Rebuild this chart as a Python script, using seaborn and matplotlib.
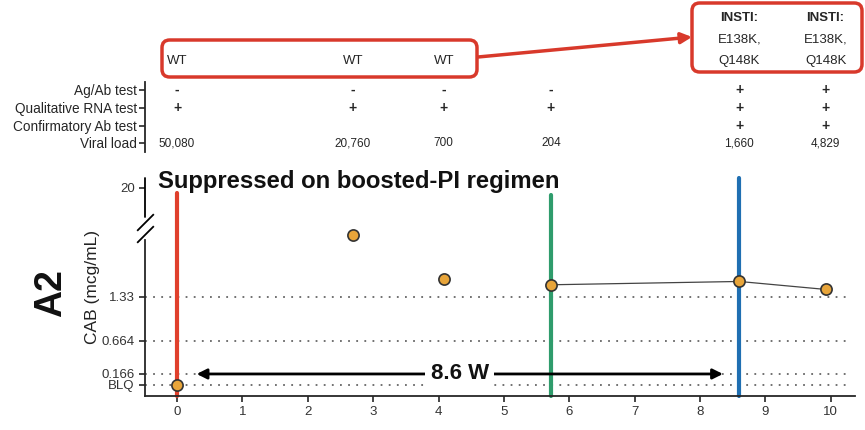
import matplotlib
matplotlib.use("Agg")
import matplotlib.pyplot as plt
import numpy as np
import pandas as pd
import seaborn as sns
from matplotlib.patches import FancyBboxPatch, FancyArrowPatch

# Datos de la figura (semanas desde el inicio)
weeks = [0, 2.69, 4.08, 5.72, 8.6, 9.92]
cab = [0, 2.26, 1.59, 1.51, 1.56, 1.44]
linked = [False, False, False, True, True, True]

genotype = ["WT", "WT", "WT", "", "INSTI:\nE138K,\nQ148K", "INSTI:\nE138K,\nQ148K"]
row_names = ["Ag/Ab test", "Qualitative RNA test", "Confirmatory Ab test", "Viral load"]
ag_ab = ["-", "-", "-", "-", "+", "+"]
rna = ["+", "+", "+", "+", "+", "+"]
confirm = ["", "", "", "", "+", "+"]
viral_load = ["50,080", "20,760", "700", "204", "1,660", "4,829"]

ytick_vals = [0, 0.166, 0.664, 1.33, 20]
ytick_labels = ["BLQ", "0.166", "0.664", "1.33", "20"]
ref_levels = [0, 0.166, 0.664, 1.33]

event_weeks = [0, 5.72, 8.6]
event_colors = ["#e0402c", "#2f9c6c", "#1f6fb2"]
event_tops = [0.931, 0.922, 1.0]

gap_start, gap_end = 0.3, 8.35
gap_label = "8.6 W"
title = "Suppressed on boosted-PI regimen"

RED = "#d8392b"
W, H = 865, 430

sns.set_style("ticks")
plt.rcParams["font.family"] = ["Liberation Sans", "DejaVu Sans"]

fig = plt.figure(figsize=(8.65, 4.3), dpi=100)


def fx(px):
    return px / W


def fy(py):
    return 1 - py / H


# eje con corte: lineal hasta B, comprimido encima
B, K = 2.36, 0.0346


def fwd(v):
    v = np.asarray(v, dtype=float)
    return np.where(v <= B, v, B + (v - B) * K)


def inv(d):
    d = np.asarray(d, dtype=float)
    return np.where(d <= B, d, B + (d - B) / K)


ax = fig.add_axes([fx(145), fy(396), fx(855) - fx(145), fy(178) - fy(396)])
ax.set_yscale("function", functions=(fwd, inv))
ax.set_xlim(-0.49, 10.37)
ax.set_ylim(-0.166, 24.3)

for lvl in ref_levels:
    ax.axhline(lvl, xmin=0, xmax=0.99, color="#666666", lw=1.3,
               linestyle=(0, (1, 3.5)), zorder=1)

for xw, c, top in zip(event_weeks, event_colors, event_tops):
    ax.axvline(xw, ymin=0, ymax=top, color=c, lw=3, zorder=2, clip_on=False)

df = pd.DataFrame({"week": weeks, "cab": cab, "linked": linked})
sns.lineplot(data=df[df["linked"]], x="week", y="cab", ax=ax,
             color="#444444", lw=0.9, zorder=3)
sns.scatterplot(data=df, x="week", y="cab", ax=ax, s=65, color="#e8a53a",
                edgecolor="#333333", linewidth=1.2, zorder=5)

ax.annotate("", xy=(gap_start, 0.166), xytext=(gap_end, 0.166),
            arrowprops=dict(arrowstyle="<|-|>", lw=2, color="black",
                            mutation_scale=15, shrinkA=0, shrinkB=0), zorder=4)
ax.text((gap_start + gap_end) / 2, 0.166, gap_label, ha="center", va="center",
        fontsize=16, fontweight="bold", color="#111111", zorder=6,
        bbox=dict(boxstyle="square,pad=0.25", fc="white", ec="none"))

ax.set_xticks(range(0, 11))
ax.set_yticks(ytick_vals, ytick_labels)
ax.tick_params(axis="both", labelsize=9.5, labelcolor="#333333", length=4, width=1.2)
ax.set_xlabel("")
ax.set_ylabel("")
for s in ["top", "right"]:
    ax.spines[s].set_visible(False)
ax.spines["bottom"].set_linewidth(1.3)
ax.spines["left"].set_linewidth(1.3)
ax.spines["left"].set_bounds(-0.166, 2.18)

# parte superior del eje y y marcas de corte
ytr = ax.get_yaxis_transform()
ax.plot([0, 0], [7.3, 24.3], transform=ytr, color="black", lw=1.3, clip_on=False)
ax.plot([0, 0], [2.274, 4.93], transform=ytr, linestyle="none",
        marker=[(-0.8, -0.8), (0.8, 0.8)], markersize=12, mew=1.3, color="black",
        clip_on=False)

fig.text(fx(158), fy(182), title, fontsize=17.2, fontweight="bold",
         ha="left", va="center", color="#111111")
fig.text(fx(51), fy(293), "A2", fontsize=27, fontweight="bold", rotation=90,
         ha="center", va="center", color="#111111")
fig.text(fx(92), fy(287), "CAB (mcg/mL)", fontsize=12.5, rotation=90,
         ha="center", va="center", color="#222222")

# tabla de pruebas
ax_top = fig.add_axes([fx(145), fy(160), fx(855) - fx(145), fy(0) - fy(160)],
                      sharex=ax)
ax_top.set_ylim(160, 0)
ax_top.patch.set_alpha(0)
row_y = [90, 108, 126, 143]
ax_top.set_yticks(row_y, row_names)
ax_top.tick_params(axis="y", labelsize=9.8, length=4, width=1.2, pad=2)
ax_top.tick_params(axis="x", bottom=False, labelbottom=False)
for s in ["top", "right", "bottom"]:
    ax_top.spines[s].set_visible(False)
ax_top.spines["left"].set_linewidth(1.3)
ax_top.spines["left"].set_bounds(82, 152)

for j, xw in enumerate(weeks):
    for i, vals in enumerate([ag_ab, rna, confirm]):
        ax_top.text(xw, row_y[i], vals[j], ha="center", va="center",
                    fontsize=10, fontweight="bold")
    ax_top.text(xw, row_y[3], viral_load[j], ha="center", va="center", fontsize=8.5)
    lines = genotype[j].split("\n") if genotype[j] else []
    for k, line in enumerate(reversed(lines)):
        ax_top.text(xw, 61 - 21.5 * k, line, ha="center", va="center",
                    fontsize=9.5, fontweight="bold" if line.endswith(":") else "normal")

# recuadros y flecha roja
asp = W / H
fig.add_artist(FancyBboxPatch((fx(162), fy(77)), fx(477) - fx(162), fy(40) - fy(77),
                              boxstyle="round,pad=0,rounding_size=0.009",
                              transform=fig.transFigure, mutation_aspect=asp,
                              fc="none", ec=RED, lw=2.5))
fig.add_artist(FancyBboxPatch((fx(692), fy(72)), fx(862) - fx(692), fy(3) - fy(72),
                              boxstyle="round,pad=0,rounding_size=0.009",
                              transform=fig.transFigure, mutation_aspect=asp,
                              fc="none", ec=RED, lw=2.5))
fig.add_artist(FancyArrowPatch((fx(478), fy(57)), (fx(692), fy(37)),
                               transform=fig.transFigure, arrowstyle="-|>",
                               mutation_scale=16, lw=2.5, color=RED,
                               shrinkA=0, shrinkB=0))

plt.savefig("out.png", dpi=100)
plt.close()
